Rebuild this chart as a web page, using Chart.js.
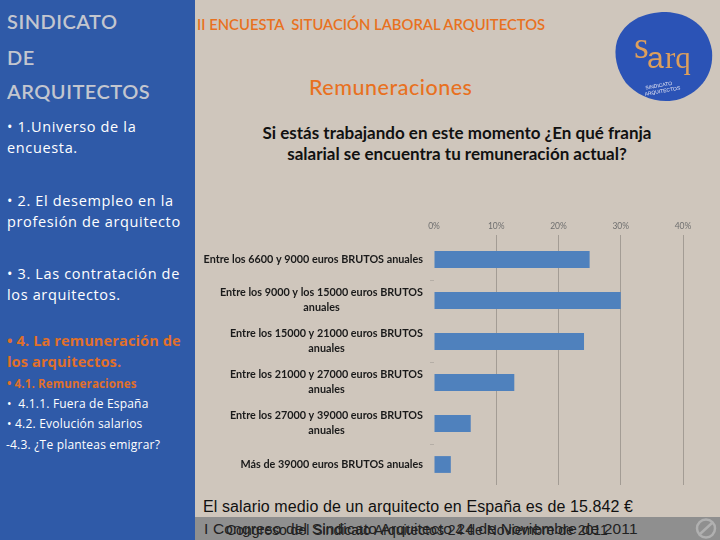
<!DOCTYPE html>
<html lang="es">
<head>
<meta charset="utf-8">
<title>Remuneraciones</title>
<script src="https://cdn.jsdelivr.net/npm/chart.js@4"></script>
<style>
html, body { margin: 0; padding: 0; }
body { width: 720px; height: 540px; position: relative; overflow: hidden; background: #cfc6bc; }
#lateral { position: absolute; left: 0; top: 0; width: 195px; height: 540px; background: #2f5aa8; }
#banda { position: absolute; left: 195px; top: 517px; width: 525px; height: 23px; background: #8f8f8f; }
canvas { position: absolute; left: 0; top: 0; }
.t { position: absolute; white-space: nowrap; }
.cab { left: 7px; font: 600 20px/35px Lato, sans-serif; letter-spacing: .5px; color: #c3c6cf; }
.item { left: 7px; font: 14.5px/21px "Open Sans", sans-serif; color: #fff; letter-spacing: .65px; }
.sub { left: 7px; font: 12px/20px "Open Sans", sans-serif; color: #fff; letter-spacing: .2px; }
.nar { color: #e0702a; font-weight: 700; letter-spacing: .15px; }
#logo { position: absolute; left: 610px; top: 5px; }
</style>
</head>
<body>
<div id="lateral"></div>
<div id="banda"></div>

<div class="t cab" style="top:4px">SINDICATO</div>
<div class="t cab" style="top:40px">DE</div>
<div class="t cab" style="top:74px">ARQUITECTOS</div>

<div class="t item" style="top:116px">• 1.Universo de la<br>encuesta.</div>
<div class="t item" style="top:190px">• 2. El desempleo en la<br>profesión de arquitecto</div>
<div class="t item" style="top:263px">• 3. Las contratación de<br>los arquitectos.</div>
<div class="t item nar" style="top:330px">• 4. La remuneración de<br>los arquitectos.</div>
<div class="t sub nar" style="top:374px;font-size:11.5px">• 4.1. Remuneraciones</div>
<div class="t sub" style="top:394px">•&nbsp; 4.1.1. Fuera de España</div>
<div class="t sub" style="top:414px">• 4.2. Evolución salarios</div>
<div class="t sub" style="left:6px;top:435px">-4.3. ¿Te planteas emigrar?</div>

<div class="t" style="left:197px;top:15px;font:600 14.8px/18px Lato,sans-serif;color:#e8711f">II ENCUESTA&nbsp; SITUACIÓN LABORAL ARQUITECTOS</div>
<div class="t" style="left:309px;top:74px;font:500 21.5px/26px Lato,sans-serif;letter-spacing:.5px;color:#e8711f">Remuneraciones</div>
<div class="t" style="left:207px;width:500px;top:122px;text-align:center;font:700 17px/21px Lato,sans-serif;color:#111;white-space:normal">Si estás trabajando en este momento ¿En qué franja<br>salarial se encuentra tu remuneración actual?</div>

<div class="t" style="left:203px;top:497px;font:16px/20px 'Liberation Sans',sans-serif;letter-spacing:.1px;color:#111">El salario medio de un arquitecto en España es de 15.842 €</div>
<div class="t" style="left:204px;top:519px;font:15.5px/20px 'Liberation Sans',sans-serif;letter-spacing:.17px;color:#222">I Congreso del Sindicato Arquitecto 24 de Noviembre de 2011</div>
<div class="t" style="left:226px;top:520px;font:14px/20px 'Liberation Sans',sans-serif;color:#222">Congreso del Sindicato Arquitectos 24 de Noviembre de 2011</div>

<canvas id="grafico" width="720" height="540"></canvas>

<svg id="logo" width="106" height="100" viewBox="0 0 106 100">
  <path d="M7 36 C14 16 34 7 56 7 C78 8 98 20 102 46 C104 68 92 86 70 94 C50 100 28 92 16 78 C7 66 3 50 7 36 Z" fill="#2b53b6"/>
  <text x="24" y="53" font-family="Liberation Serif" font-size="38" fill="#dd9f5c">s</text>
  <text x="37" y="63" font-family="Liberation Sans" font-size="30" fill="#dd9f5c">a</text>
  <text x="55" y="63" font-family="Liberation Serif" font-size="31" fill="#dd9f5c">rq</text>
  <g transform="rotate(-10 50 84)">
    <text x="36" y="82" font-family="Liberation Sans" font-size="5" fill="#e8e8f4">SINDICATO</text>
    <text x="34" y="88" font-family="Liberation Sans" font-size="5" fill="#e8e8f4">ARQUITECTOS</text>
  </g>
</svg>
<svg style="position:absolute;left:694px;top:517px" width="24" height="23" viewBox="0 0 24 23">
  <circle cx="12" cy="11.5" r="9" fill="none" stroke="#b0b0b0" stroke-width="2.5"/>
  <path d="M6 17 L18 6" stroke="#b0b0b0" stroke-width="2.5"/>
</svg>

<script>
const categorias = [
    ['Entre los 6600 y 9000 euros BRUTOS anuales'],
    ['Entre los 9000 y los 15000 euros BRUTOS', 'anuales'],
    ['Entre los 15000 y 21000 euros BRUTOS', 'anuales'],
    ['Entre los 21000 y 27000 euros BRUTOS', 'anuales'],
    ['Entre los 27000 y 39000 euros BRUTOS', 'anuales'],
    ['Más de 39000 euros BRUTOS anuales']
];
const porcentajes = [25, 30, 24.1, 12.9, 5.9, 2.7];
const ticksX = [0, 10, 20, 30, 40];

// las etiquetas van centradas entre sí, pero con el bloque pegado a la derecha
const etiquetasCentradas = {
    id: 'etiquetasCentradas',
    afterDraw(chart) {
        const ctx = chart.ctx;
        const ejeY = chart.scales.y;
        ctx.save();
        ctx.font = 'bold 10.8px Lato, sans-serif';
        ctx.fillStyle = '#1a1a1a';
        ctx.textAlign = 'center';
        ctx.textBaseline = 'middle';
        categorias.forEach((lineas, i) => {
            const ancho = Math.max(...lineas.map(l => ctx.measureText(l).width));
            const cx = ejeY.right - 11 - ancho / 2;
            const y = ejeY.getPixelForTick(i);
            lineas.forEach((l, n) => {
                ctx.fillText(l, cx, y + (n - (lineas.length - 1) / 2) * 15);
            });
        });
        ctx.restore();
    }
};

const chart = new Chart(document.getElementById('grafico'), {
    type: 'bar',
    data: {
        labels: categorias,
        datasets: [{
            label: 'Remuneraciones',
            data: porcentajes,
            backgroundColor: '#4f81bd',
            barPercentage: 0.82,
            categoryPercentage: 0.5
        }]
    },
    options: {
        indexAxis: 'y',
        responsive: false,
        animation: false,
        layout: {
            padding: { top: 211, right: 37, bottom: 55, left: 0 }
        },
        plugins: {
            legend: { display: false },
            tooltip: { enabled: false }
        },
        scales: {
            x: {
                position: 'top',
                min: 0,
                max: 40,
                afterBuildTicks: axis => { axis.ticks = ticksX.map(v => ({ value: v })); },
                afterFit: axis => { axis.height = 28; },
                border: { display: false },
                grid: {
                    color: ctx => ctx.tick && ctx.tick.value === 0 ? 'transparent' : '#a39c94',
                    tickLength: 4
                },
                ticks: {
                    color: '#6f6f6f',
                    font: { family: 'Lato, sans-serif', size: 8.5 },
                    padding: 4,
                    maxRotation: 0,
                    callback: v => v + '%'
                }
            },
            y: {
                afterFit: axis => { axis.width = 434; },
                border: { display: false },
                grid: {
                    drawOnChartArea: false,
                    color: ctx => ctx.index % 2 === 1 ? '#b5aea6' : 'transparent',
                    tickLength: 4
                },
                ticks: {
                    color: 'transparent',
                    font: { family: 'Lato, sans-serif', size: 11 }
                }
            }
        }
    },
    plugins: [etiquetasCentradas]
});
</script>
</body>
</html>
